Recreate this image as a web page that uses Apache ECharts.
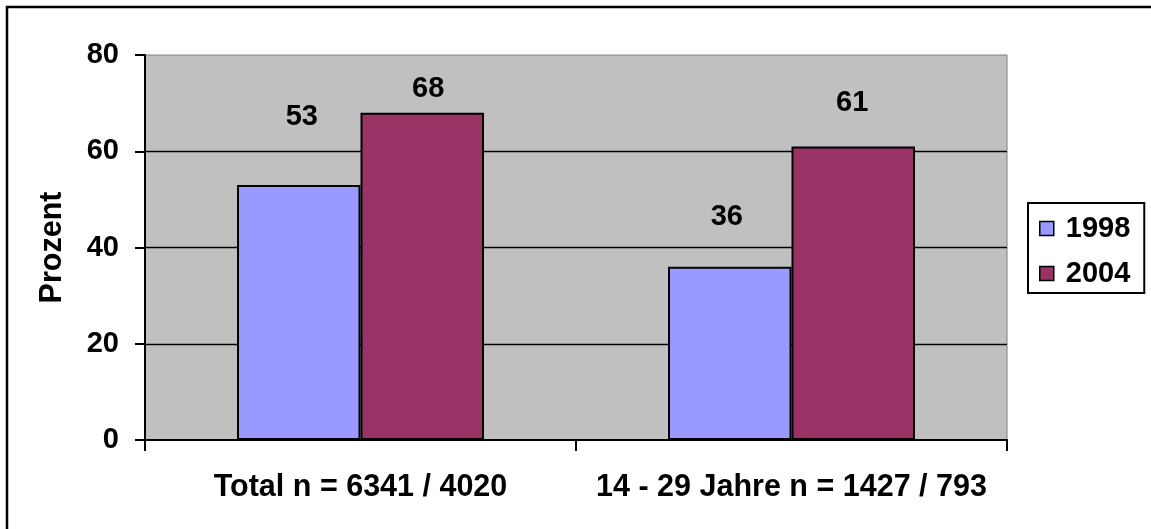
<!DOCTYPE html>
<html>
<head>
<meta charset="utf-8">
<script src="https://cdn.jsdelivr.net/npm/echarts@6/dist/echarts.min.js"></script>
<style>
  html, body { margin: 0; padding: 0; background: #fff; }
  #chart { width: 1151px; height: 529px; }
</style>
</head>
<body>
<div id="chart"></div>
<script>
// Share of respondents (percent), survey waves 1998 and 2004
const categories = ['Total n = 6341 / 4020', '14 - 29 Jahre n = 1427 / 793'];
const seriesNames = ['1998', '2004'];
const values1998 = [53, 36];
const values2004 = [68, 61];
const yTicks = [0, 20, 40, 60, 80];

// Hand-placed value labels: [dx, dy] shift from the bar top, per bar
const labelShift1998 = [[3, -53], [-3, -35]];
const labelShift2004 = [[6, -9], [-1, -29]];

const FONT = "'Liberation Sans', Arial, Helvetica, sans-serif";
const txt = { fontFamily: FONT, fontWeight: 'bold', fontSize: 29, color: '#000' };
const bigTxt = Object.assign({}, txt, { fontSize: 30.5 });

function barData(values, shifts) {
  return values.map((v, i) => ({
    value: v,
    label: { offset: shifts[i] }
  }));
}

const chart = echarts.init(document.getElementById('chart'), null, { renderer: 'canvas' });

chart.setOption({
  animation: false,
  backgroundColor: '#fff',
  textStyle: { fontFamily: FONT },
  graphic: [{
    type: 'rect',
    shape: { x: 7, y: 7, width: 1170, height: 560 },
    style: { fill: 'none', stroke: '#000', lineWidth: 2.5 },
    silent: true
  }],
  grid: {
    left: 145, right: 144, top: 55, bottom: 89,
    show: true,
    backgroundColor: '#C0C0C0',
    borderColor: '#808080',
    borderWidth: 1
  },
  legend: {
    orient: 'vertical',
    left: 1028, top: 203,
    padding: [11, 14, 5, 11],
    itemGap: 16,
    itemWidth: 14, itemHeight: 14,
    icon: 'rect',
    borderColor: '#000', borderWidth: 2,
    backgroundColor: '#fff',
    itemStyle: { borderColor: '#000', borderWidth: 1.5 },
    textStyle: Object.assign({}, txt, { padding: [0, 0, 0, 7] }),
    data: seriesNames
  },
  xAxis: {
    type: 'category',
    data: categories,
    axisLine: { lineStyle: { color: '#000', width: 2 } },
    axisTick: { show: true, length: 11, lineStyle: { color: '#000', width: 2 } },
    axisLabel: Object.assign({}, bigTxt, { margin: 32, interval: 0 }),
    splitLine: { show: false }
  },
  yAxis: {
    type: 'value',
    min: yTicks[0], max: yTicks[yTicks.length - 1], interval: 20,
    name: 'Prozent',
    nameLocation: 'middle',
    nameRotate: 90,
    nameGap: 77,
    nameTextStyle: bigTxt,
    axisLine: { show: true, lineStyle: { color: '#000', width: 2 } },
    axisTick: { show: true, length: 10, lineStyle: { color: '#000', width: 2 } },
    axisLabel: Object.assign({}, txt, { margin: 26 }),
    splitLine: {
      show: true,
      lineStyle: { color: ['rgba(0,0,0,0)', '#000', '#000', '#000', 'rgba(0,0,0,0)'], width: 1.3 }
    }
  },
  series: [
    {
      name: seriesNames[0],
      type: 'bar',
      data: barData(values1998, labelShift1998),
      barGap: '0%',
      barCategoryGap: '42.7%',
      itemStyle: { color: '#9999FF', borderColor: '#000', borderWidth: 2 },
      label: Object.assign({ show: true, position: 'top', distance: 0 }, txt)
    },
    {
      name: seriesNames[1],
      type: 'bar',
      data: barData(values2004, labelShift2004),
      barGap: '0%',
      barCategoryGap: '42.7%',
      itemStyle: { color: '#993366', borderColor: '#000', borderWidth: 2 },
      label: Object.assign({ show: true, position: 'top', distance: 0 }, txt)
    }
  ]
});
</script>
</body>
</html>
